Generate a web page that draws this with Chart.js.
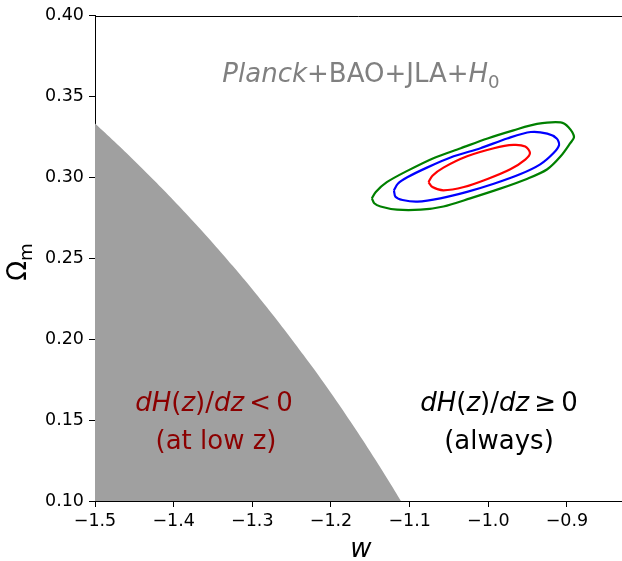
<!DOCTYPE html>
<html>
<head>
<meta charset="utf-8">
<script src="https://cdn.jsdelivr.net/npm/chart.js@4.4.1/dist/chart.umd.min.js"></script>
<style>
  html, body { margin: 0; padding: 0; background: #fff; }
  #wrap { width: 622px; height: 561px; }
</style>
</head>
<body>
<div id="wrap"><canvas id="c" width="622" height="561"></canvas></div>
<script>
// axis ticks
const xTicks = [-1.5, -1.4, -1.3, -1.2, -1.1, -1.0, -0.9];
const yTicks = [0.10, 0.15, 0.20, 0.25, 0.30, 0.35, 0.40];

// edge of the dH/dz < 0 region
const boundaryW  = [-1.5, -1.475, -1.45, -1.425, -1.4, -1.375, -1.35, -1.325, -1.3, -1.275, -1.25, -1.225, -1.2, -1.175, -1.15, -1.125, -1.111];
const boundaryOm = [0.3333, 0.3220, 0.3103, 0.2982, 0.2857, 0.2727, 0.2593, 0.2453, 0.2308, 0.2157, 0.2000, 0.1837, 0.1667, 0.1489, 0.1304, 0.1111, 0.1000];

// contours (outer green, middle blue, inner red)
const greenW  = [-1.148, -1.143, -1.129, -1.103, -1.069, -1.035, -1.001, -0.968, -0.938, -0.908, -0.898, -0.891, -0.896, -0.908, -0.925, -0.951, -0.985, -1.023, -1.057, -1.086, -1.116, -1.137, -1.145];
const greenOm = [0.287, 0.291, 0.297, 0.304, 0.312, 0.318, 0.324, 0.329, 0.333, 0.334, 0.331, 0.325, 0.321, 0.313, 0.305, 0.299, 0.293, 0.287, 0.282, 0.280, 0.280, 0.282, 0.284];

const blueW  = [-1.120, -1.115, -1.103, -1.078, -1.044, -1.010, -0.976, -0.946, -0.925, -0.913, -0.910, -0.917, -0.934, -0.959, -0.993, -1.027, -1.061, -1.090, -1.109, -1.118];
const blueOm = [0.292, 0.296, 0.300, 0.306, 0.313, 0.318, 0.324, 0.328, 0.327, 0.324, 0.320, 0.315, 0.308, 0.302, 0.296, 0.291, 0.287, 0.285, 0.286, 0.288];

const redW  = [-1.076, -1.071, -1.057, -1.027, -0.993, -0.968, -0.953, -0.947, -0.953, -0.972, -1.001, -1.031, -1.057, -1.071];
const redOm = [0.297, 0.301, 0.306, 0.313, 0.318, 0.320, 0.319, 0.315, 0.311, 0.305, 0.299, 0.294, 0.292, 0.294];

const FONT = "'DejaVu Sans', sans-serif";

function pts(xs, ys, close) {
  const out = xs.map((x, i) => ({ x: x, y: ys[i] }));
  if (close) out.push({ x: xs[0], y: ys[0] });
  return out;
}

function contour(xs, ys, color) {
  return {
    data: pts(xs, ys, true),
    borderColor: color,
    borderWidth: 2.2,
    pointRadius: 0,
    tension: 0.3,
    fill: false
  };
}

// draw a run of text pieces (italic / subscript) centred on cx
function drawRich(ctx, parts, cx, baseY, size, color) {
  const fontOf = p => (p.i ? 'italic ' : '') + (p.sub ? size * 0.7 : size) + 'px ' + FONT;
  let total = 0;
  parts.forEach(p => { ctx.font = fontOf(p); total += ctx.measureText(p.t).width; });
  let x = cx - total / 2;
  ctx.fillStyle = color;
  ctx.textAlign = 'left';
  ctx.textBaseline = 'alphabetic';
  parts.forEach(p => {
    ctx.font = fontOf(p);
    ctx.fillText(p.t, x, baseY + (p.sub ? size * 0.22 : 0));
    x += ctx.measureText(p.t).width;
  });
}

const textPlugin = {
  id: 'texts',
  afterDraw(chart) {
    const ctx = chart.ctx;
    const a = chart.chartArea;
    ctx.save();
    // top spine
    const top = Math.round(a.top);
    ctx.strokeStyle = '#000';
    ctx.lineWidth = 1;
    ctx.beginPath();
    ctx.moveTo(Math.round(a.left), top + 0.5);
    ctx.lineTo(622, top + 0.5);
    ctx.stroke();

    drawRich(ctx, [
      { t: 'Planck', i: true }, { t: '+BAO+JLA+' }, { t: 'H', i: true }, { t: '0', sub: true }
    ], 361, 82, 26, '#808080');

    const lt = [{ t: 'dH', i: true }, { t: '(' }, { t: 'z', i: true }, { t: ')/' }, { t: 'dz', i: true }, { t: '\u2009<\u2009' }, { t: '0' }];
    drawRich(ctx, lt, 214, 411, 26, '#8b0000');
    drawRich(ctx, [{ t: '(at low z)' }], 216, 449, 26, '#8b0000');

    const rt = [{ t: 'dH', i: true }, { t: '(' }, { t: 'z', i: true }, { t: ')/' }, { t: 'dz', i: true }, { t: '\u2009\u2265\u2009' }, { t: '0' }];
    drawRich(ctx, rt, 499, 411, 26, '#000');
    drawRich(ctx, [{ t: '(always)' }], 499, 449, 26, '#000');

    // axis titles
    drawRich(ctx, [{ t: 'w', i: true }], 361, 557, 26, '#000');
    ctx.translate(26, 262);
    ctx.rotate(-Math.PI / 2);
    drawRich(ctx, [{ t: '\u03A9' }, { t: 'm', sub: true }], 0, 0, 26, '#000');
    ctx.restore();
  }
};

new Chart(document.getElementById('c'), {
  type: 'line',
  data: {
    datasets: [
      contour(redW, redOm, '#ff0000'),
      contour(blueW, blueOm, '#0000ff'),
      contour(greenW, greenOm, '#008000'),
      {
        data: pts(boundaryW, boundaryOm, false),
        borderWidth: 0,
        borderColor: 'rgba(0,0,0,0)',
        backgroundColor: '#a0a0a0',
        pointRadius: 0,
        tension: 0.4,
        fill: 'start'
      }
    ]
  },
  options: {
    responsive: false,
    animation: false,
    layout: { padding: { top: 15, right: 0, left: 0, bottom: 0 } },
    plugins: { legend: { display: false }, tooltip: { enabled: false } },
    scales: {
      x: {
        type: 'linear',
        min: -1.5,
        max: -0.83,
        afterBuildTicks: s => { s.ticks = xTicks.map(v => ({ value: v })); },
        afterFit: s => { s.height = 60; },
        grid: { drawOnChartArea: false, drawTicks: true, tickLength: 6, color: '#000' },
        border: { display: true, color: '#000', width: 1 },
        ticks: {
          color: '#000',
          padding: 4,
          maxRotation: 0,
          font: { family: FONT, size: 17.5 },
          callback: v => (v < 0 ? '\u2212' : '') + Math.abs(v).toFixed(1)
        }
      },
      y: {
        type: 'linear',
        min: 0.10,
        max: 0.40,
        afterBuildTicks: s => { s.ticks = yTicks.map(v => ({ value: v })); },
        afterFit: s => { s.width = 95; },
        grid: { drawOnChartArea: false, drawTicks: true, tickLength: 6, color: '#000' },
        border: { display: true, color: '#000', width: 1 },
        ticks: {
          color: '#000',
          padding: 5,
          font: { family: FONT, size: 17.5 },
          callback: v => v.toFixed(2)
        }
      }
    }
  },
  plugins: [textPlugin]
});
</script>
</body>
</html>
